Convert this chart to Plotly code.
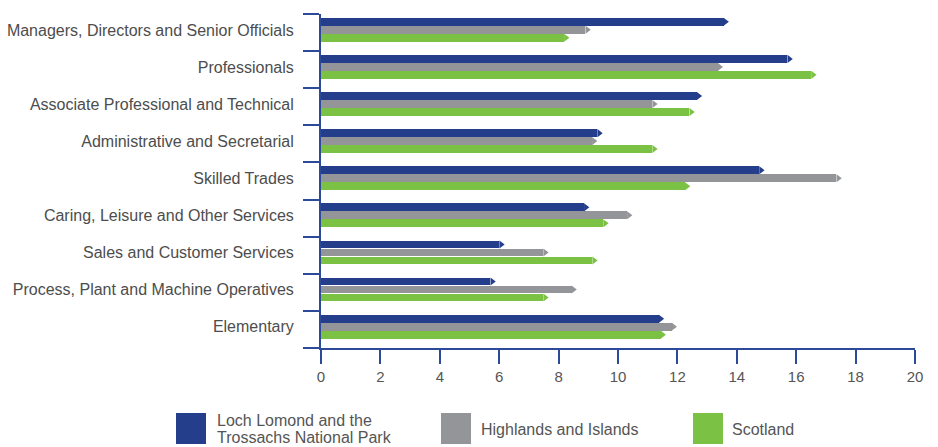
import plotly.graph_objects as go

categories = [
    "Managers, Directors and Senior Officials",
    "Professionals",
    "Associate Professional and Technical",
    "Administrative and Secretarial",
    "Skilled Trades",
    "Caring, Leisure and Other Services",
    "Sales and Customer Services",
    "Process, Plant and Machine Operatives",
    "Elementary",
]
loch_lomond = [13.75, 15.9, 12.85, 9.5, 14.95, 9.05, 6.2, 5.9, 11.57]
highlands = [9.1, 13.55, 11.35, 9.32, 17.55, 10.5, 7.68, 8.63, 12.0]
scotland = [8.38, 16.7, 12.6, 11.35, 12.45, 9.7, 9.33, 7.68, 11.63]
x_ticks = [0, 2, 4, 6, 8, 10, 12, 14, 16, 18, 20]
legend_names = [["Loch Lomond and the", "Trossachs National Park"],
                ["Highlands and Islands"], ["Scotland"]]

colors = ["#243e8c", "#939598", "#7bc143"]
offsets = [-0.29, -0.075, 0.14]
series_vals = [loch_lomond, highlands, scotland]

# Page body has an 8px margin; the figure starts at (8, 8) in the window.
OFF = 8
W, H = 938 - OFF, 447 - OFF
L, R, T, B = 321 - OFF, 915 - OFF, 14 - OFF, 348 - OFF
PX = (R - L) / 20.0          # pixels per x unit
TIP_C = 4.0 / PX             # marker centre offset from tip
TIP_B = 5.8 / PX             # bar end offset from tip

fig = go.Figure()
pos = list(range(len(categories)))
for vals, color, off in zip(series_vals, colors, offsets):
    ys = [p + off for p in pos]
    fig.add_trace(go.Bar(
        x=[v - TIP_B for v in vals], y=ys, orientation="h", width=0.21,
        marker=dict(color=color, line=dict(width=0)), showlegend=False,
        hoverinfo="skip",
    ))
    fig.add_trace(go.Scatter(
        x=[v - TIP_C for v in vals], y=ys, mode="markers",
        marker=dict(symbol="triangle-right", size=7, color=color, line=dict(width=0)),
        showlegend=False, hoverinfo="skip", cliponaxis=False,
    ))

axis_blue = "#2d4a98"
font_family = "Liberation Sans, Arial, Helvetica, sans-serif"

fig.update_layout(
    width=W, height=H,
    margin=dict(l=L, r=W - R, t=T, b=H - B, pad=0, autoexpand=False),
    plot_bgcolor="white", paper_bgcolor="white",
    barmode="overlay", bargap=0,
    font=dict(family=font_family, size=16, color="#4d4d4d"),
    xaxis=dict(
        range=[0, 20], tickvals=x_ticks, ticktext=[str(t) for t in x_ticks],
        showgrid=False, zeroline=False,
        showline=True, linecolor=axis_blue, linewidth=2,
        ticks="outside", ticklen=14, tickwidth=2, tickcolor=axis_blue,
        tickfont=dict(size=15, color="#555555"),
    ),
    yaxis=dict(
        range=[len(categories) - 0.5, -0.5],
        tickvals=[p - 0.07 for p in pos], ticktext=categories,
        showgrid=False, zeroline=False,
        showline=True, linecolor=axis_blue, linewidth=2,
        ticks="outside", ticklen=22, tickcolor="rgba(0,0,0,0)",
        tickfont=dict(size=16, color="#4d4d4d"),
        minor=dict(
            tickvals=[p - 0.5 for p in pos] + [len(categories) - 0.5],
            ticks="outside", ticklen=16, tickwidth=2, tickcolor=axis_blue,
            showgrid=False,
        ),
    ),
)

def px_x(x):
    return (x - OFF - L) / (R - L)

def px_y(y):
    return (B - (y - OFF)) / (B - T)

legend_pos = [(176, 215), (441, 479), (693, 730)]
for lines, color, (sx, tx) in zip(legend_names, colors, legend_pos):
    fig.add_shape(type="rect", xref="paper", yref="paper",
                  x0=px_x(sx), x1=px_x(sx + 30), y0=px_y(444), y1=px_y(413),
                  fillcolor=color, line=dict(width=0))
    if len(lines) == 1:
        centers = [429]
    else:
        centers = [421, 437]
    for text, cy in zip(lines, centers):
        fig.add_annotation(xref="paper", yref="paper", x=px_x(tx), y=px_y(cy),
                           text=text, showarrow=False, xanchor="left", yanchor="middle",
                           align="left", font=dict(size=16, color="#555555"))

fig.write_html("out.html")
